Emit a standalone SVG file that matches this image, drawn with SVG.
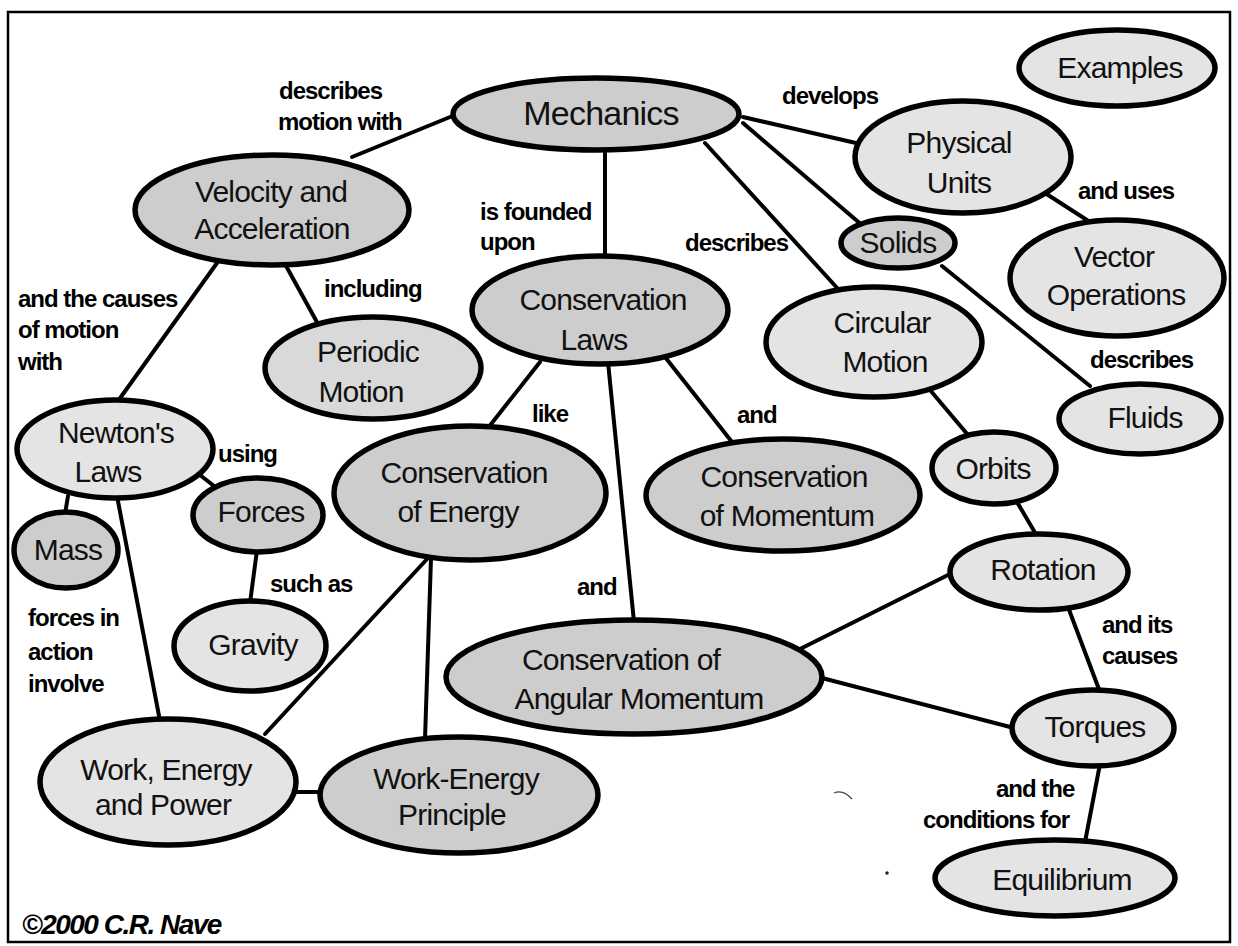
<svg xmlns="http://www.w3.org/2000/svg" width="1238" height="946" viewBox="0 0 1238 946">
<style>
.n{stroke:#000;stroke-width:5.5}
.d{fill:#cdcdcd}
.m2{fill:#d9d9d9}
.l{fill:#e4e4e4}
.t{font-family:"Liberation Sans",Arial,sans-serif;font-size:30px;fill:#111;text-anchor:middle;letter-spacing:-0.8px}
.c{stroke:#000;stroke-width:4;fill:none;stroke-linecap:round}
.lb{font-family:"Liberation Sans",Arial,sans-serif;font-size:24px;font-weight:bold;fill:#000;letter-spacing:-1px}
</style>
<rect x="0" y="0" width="1238" height="946" fill="#fff"/>
<rect x="8" y="12" width="1222" height="930" fill="none" stroke="#000" stroke-width="2.5"/>
<g id="connectors">
<line class="c" x1="455" y1="115" x2="352" y2="157"/>
<line class="c" x1="605" y1="150" x2="605" y2="257"/>
<line class="c" x1="743" y1="117" x2="856" y2="143"/>
<line class="c" x1="743" y1="123" x2="863" y2="226"/>
<line class="c" x1="705" y1="143" x2="839" y2="290"/>
<line class="c" x1="1045" y1="193" x2="1090" y2="222"/>
<line class="c" x1="942" y1="266" x2="1090" y2="386"/>
<line class="c" x1="217" y1="263" x2="118" y2="401"/>
<line class="c" x1="285" y1="264" x2="318" y2="324"/>
<line class="c" x1="540" y1="362" x2="488" y2="428"/>
<line class="c" x1="608" y1="362" x2="634" y2="622"/>
<line class="c" x1="665" y1="357" x2="732" y2="442"/>
<line class="c" x1="930" y1="390" x2="968" y2="435"/>
<line class="c" x1="1017" y1="502" x2="1037" y2="536"/>
<line class="c" x1="952" y1="573" x2="798" y2="650"/>
<line class="c" x1="822" y1="678" x2="1014" y2="728"/>
<line class="c" x1="1068" y1="607" x2="1100" y2="692"/>
<line class="c" x1="1100" y1="764" x2="1085" y2="842"/>
<line class="c" x1="200" y1="475" x2="214" y2="486"/>
<line class="c" x1="68" y1="496" x2="65" y2="514"/>
<line class="c" x1="117" y1="496" x2="160" y2="721"/>
<line class="c" x1="257" y1="550" x2="250" y2="603"/>
<line class="c" x1="428" y1="558" x2="265" y2="734"/>
<line class="c" x1="431" y1="558" x2="425" y2="739"/>
<line class="c" x1="294" y1="792" x2="322" y2="792"/>
</g>
<g id="mechanics"><ellipse class="n d" cx="596" cy="114" rx="143" ry="36"/><text class="t" x="601" y="125" style="font-size:34px">Mechanics</text></g>
<g id="examples"><ellipse class="n l" cx="1117" cy="68" rx="98" ry="38"/><text class="t" x="1120" y="78">Examples</text></g>
<g id="physical-units"><ellipse class="n l" cx="963" cy="157" rx="108" ry="56"/><text class="t" x="959" y="153">Physical</text><text class="t" x="959" y="193">Units</text></g>
<g id="velocity"><ellipse class="n d" cx="272" cy="210" rx="137" ry="55"/><text class="t" x="271" y="202">Velocity and</text><text class="t" x="272" y="239">Acceleration</text></g>
<g id="solids"><ellipse class="n d" cx="898" cy="243" rx="57" ry="25"/><text class="t" x="898" y="253">Solids</text></g>
<g id="vector-operations"><ellipse class="n l" cx="1117" cy="278" rx="107" ry="58"/><text class="t" x="1114" y="267">Vector</text><text class="t" x="1116" y="305">Operations</text></g>
<g id="conservation-laws"><ellipse class="n d" cx="600" cy="310" rx="128" ry="54"/><text class="t" x="603" y="310">Conservation</text><text class="t" x="594" y="350">Laws</text></g>
<g id="circular-motion"><ellipse class="n l" cx="874" cy="342" rx="108" ry="55"/><text class="t" x="882" y="333">Circular</text><text class="t" x="885" y="372">Motion</text></g>
<g id="periodic-motion"><ellipse class="n m2" cx="373" cy="368" rx="108" ry="51"/><text class="t" x="368" y="362">Periodic</text><text class="t" x="361" y="402">Motion</text></g>
<g id="fluids"><ellipse class="n l" cx="1140" cy="419" rx="81" ry="35"/><text class="t" x="1145" y="428">Fluids</text></g>
<g id="newtons-laws"><ellipse class="n l" cx="115" cy="449" rx="98" ry="49"/><text class="t" x="116" y="443">Newton's</text><text class="t" x="108" y="482">Laws</text></g>
<g id="conservation-energy"><ellipse class="n d" cx="470" cy="493" rx="136" ry="67"/><text class="t" x="464" y="483">Conservation</text><text class="t" x="458" y="522">of Energy</text></g>
<g id="conservation-momentum"><ellipse class="n d" cx="783" cy="495" rx="137" ry="56"/><text class="t" x="784" y="487">Conservation</text><text class="t" x="787" y="526">of Momentum</text></g>
<g id="orbits"><ellipse class="n l" cx="994" cy="468" rx="62" ry="36"/><text class="t" x="993" y="479">Orbits</text></g>
<g id="forces"><ellipse class="n d" cx="258" cy="515" rx="65" ry="37"/><text class="t" x="261" y="522">Forces</text></g>
<g id="mass"><ellipse class="n d" cx="66" cy="550" rx="52" ry="38"/><text class="t" x="68" y="560">Mass</text></g>
<g id="rotation"><ellipse class="n l" cx="1039" cy="572" rx="89" ry="38"/><text class="t" x="1043" y="580">Rotation</text></g>
<g id="gravity"><ellipse class="n l" cx="250" cy="646" rx="76" ry="45"/><text class="t" x="253" y="655">Gravity</text></g>
<g id="conservation-angular-momentum"><ellipse class="n d" cx="634" cy="677" rx="188" ry="57"/><text class="t" x="621" y="670">Conservation of</text><text class="t" x="639" y="709">Angular Momentum</text></g>
<g id="torques"><ellipse class="n l" cx="1093" cy="728" rx="81" ry="38"/><text class="t" x="1095" y="737">Torques</text></g>
<g id="work-energy-power"><ellipse class="n l" cx="168" cy="782" rx="128" ry="63"/><text class="t" x="166" y="780">Work, Energy</text><text class="t" x="163" y="815">and Power</text></g>
<g id="work-energy-principle"><ellipse class="n d" cx="459" cy="795" rx="139" ry="58"/><text class="t" x="456" y="789">Work-Energy</text><text class="t" x="452" y="825">Principle</text></g>
<g id="equilibrium"><ellipse class="n l" cx="1055" cy="878" rx="120" ry="38"/><text class="t" x="1062" y="890">Equilibrium</text></g>
<g id="labels">
<text class="lb" x="279" y="99">describes</text>
<text class="lb" x="278" y="130">motion with</text>
<text class="lb" x="782" y="104">develops</text>
<text class="lb" x="1078" y="199">and uses</text>
<text class="lb" x="480" y="220">is founded</text>
<text class="lb" x="480" y="250">upon</text>
<text class="lb" x="685" y="251">describes</text>
<text class="lb" x="18" y="307">and the causes</text>
<text class="lb" x="18" y="338">of motion</text>
<text class="lb" x="18" y="370">with</text>
<text class="lb" x="324" y="297">including</text>
<text class="lb" x="1090" y="368">describes</text>
<text class="lb" x="218" y="462">using</text>
<text class="lb" x="532" y="422">like</text>
<text class="lb" x="737" y="423">and</text>
<text class="lb" x="270" y="592">such as</text>
<text class="lb" x="577" y="595">and</text>
<text class="lb" x="28" y="626">forces in</text>
<text class="lb" x="28" y="660">action</text>
<text class="lb" x="28" y="692">involve</text>
<text class="lb" x="1102" y="633">and its</text>
<text class="lb" x="1102" y="664">causes</text>
<text class="lb" x="996" y="797">and the</text>
<text class="lb" x="923" y="828">conditions for</text>
<text class="lb" x="22" y="934" style="font-style:italic;font-size:28px;letter-spacing:-1.5px">©2000 C.R. Nave</text>
</g>
<path d="M834 793 Q843 789 852 799" fill="none" stroke="#444" stroke-width="1.2"/>
<circle cx="887" cy="873" r="1.8" fill="#222"/>
</svg>
